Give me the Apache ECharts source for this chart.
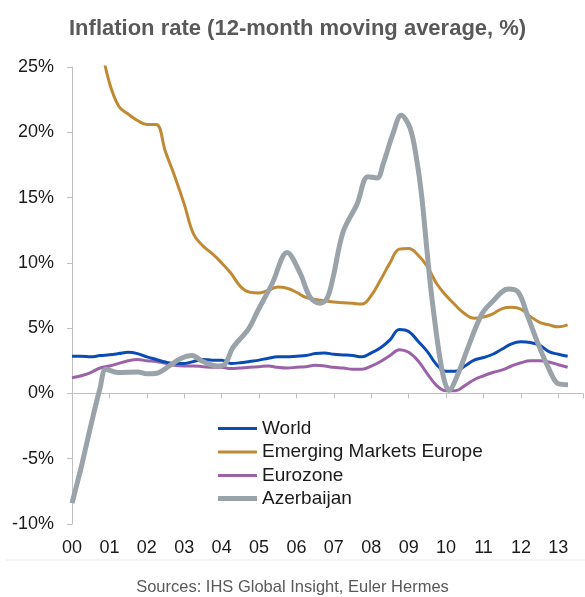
<!DOCTYPE html>
<html>
<head>
<meta charset="utf-8">
<script src="https://cdn.jsdelivr.net/npm/echarts@6/dist/echarts.min.js"></script>
<style>
html,body{margin:0;padding:0;background:#fff;}
#c{width:585px;height:597px;}
</style>
</head>
<body>
<div id="c"></div>
<script>
// Quarterly time grid (decimal years)
var years = [2000,2000.25,2000.5,2000.75,2001,2001.25,2001.5,2001.75,2002,2002.25,2002.5,2002.75,
  2003,2003.25,2003.5,2003.75,2004,2004.25,2004.5,2004.75,2005,2005.25,2005.5,2005.75,
  2006,2006.25,2006.5,2006.75,2007,2007.25,2007.5,2007.75,2008,2008.25,2008.5,2008.75,
  2009,2009.25,2009.5,2009.75,2010,2010.25,2010.5,2010.75,2011,2011.25,2011.5,2011.75,
  2012,2012.25,2012.5,2012.75,2013,2013.25];

var world = [2.85,2.85,2.8,2.9,2.96,3.05,3.15,3.05,2.8,2.6,2.4,2.3,
  2.3,2.45,2.6,2.55,2.55,2.3,2.35,2.45,2.55,2.7,2.8,2.8,
  2.85,2.9,3.05,3.1,3.0,2.95,2.9,2.8,3.1,3.5,4.1,4.9,
  4.75,4.0,3.2,2.2,1.7,1.7,2.1,2.55,2.75,3.0,3.4,3.8,
  3.95,3.9,3.7,3.2,3.0,2.85];

var emergingEurope = [null,null,null,27,23.8,22.0,21.4,20.9,20.6,20.6,18.5,16.6,
  14.5,12.2,11.3,10.7,10.0,9.2,8.2,7.75,7.7,7.9,8.15,8.05,
  7.75,7.35,7.2,7.1,7.0,6.95,6.9,6.85,7.5,8.7,10.0,11.05,
  11.1,10.6,9.7,8.4,7.5,6.75,6.1,5.75,5.85,6.1,6.5,6.6,
  6.45,5.9,5.45,5.25,5.1,5.25];

var eurozone = [1.2,1.35,1.6,1.95,2.1,2.3,2.5,2.6,2.5,2.45,2.3,2.15,
  2.1,2.1,2.05,2.0,2.0,1.9,1.95,2.0,2.05,2.1,2.0,1.95,
  2.0,2.05,2.15,2.1,2.0,1.95,1.85,1.85,2.1,2.45,2.9,3.35,
  3.15,2.5,1.5,0.6,0.2,0.2,0.6,1.05,1.35,1.6,1.8,2.1,
  2.35,2.5,2.5,2.4,2.2,2.0];

// Azerbaijan read at its own (irregular) dates
var azYears = [2000,2000.25,2000.5,2000.75,2000.91,2001.23,2001.76,2002.0,2002.27,2002.62,2002.89,
  2003.21,2003.5,2003.88,2004.09,2004.3,2004.71,2004.97,2005.35,2005.75,2006.1,2006.36,2006.63,
  2006.82,2006.98,2007.25,2007.62,2007.91,2008.16,2008.32,2008.58,2008.8,2009.04,2009.22,2009.36,
  2009.49,2009.63,2009.89,2010.08,2010.32,2010.59,2010.96,2011.23,2011.66,2011.93,2012.19,2012.46,
  2012.73,2013.0,2013.26];
var azerbaijan = [-8.4,-5.6,-2.5,0.4,1.85,1.6,1.65,1.5,1.55,2.14,2.65,
  2.9,2.45,2.1,2.25,3.5,4.9,6.35,8.4,10.8,9.2,7.4,6.9,
  7.3,8.9,12.4,14.5,16.6,16.5,17.6,19.9,21.3,20.3,17.8,14.8,
  10.9,7.1,1.8,0.25,1.5,3.55,6.1,7.0,8.0,7.75,5.85,3.8,
  2.0,0.74,0.67];

var yTicks = [-10,-5,0,5,10,15,20,25];
var seriesNames = ['World','Emerging Markets Europe','Eurozone','Azerbaijan'];
var titleText = 'Inflation rate (12-month moving average, %)';
var sourceText = 'Sources: IHS Global Insight, Euler Hermes';

function pairs(xs, ys){ return xs.map(function(x,i){ return [x, ys[i]]; }); }

var FONT = 'Liberation Sans, Arial, sans-serif';
var chart = echarts.init(document.getElementById('c'));
var xCommon = { type:'value', min:2000, max:2013.66, interval:1, splitLine:{show:false} };
var legendText = { fontFamily:FONT, fontSize:19, color:'#1a1a1a' };

chart.setOption({
  animation:false,
  backgroundColor:'#ffffff',
  title:{ text:titleText, left:64, top:13,
    textStyle:{ fontFamily:FONT, fontSize:22, fontWeight:'bold', color:'#595959' } },
  grid:{ left:72, right:2, top:67, bottom:73, containLabel:false },
  legend:[
    { data:seriesNames.slice(0,3), orient:'vertical', left:213, top:414,
      icon:'rect', itemWidth:39, itemHeight:3, itemGap:4.5, textStyle:legendText },
    { data:seriesNames.slice(3), orient:'vertical', left:213, top:484,
      icon:'rect', itemWidth:39, itemHeight:5, itemGap:4.5, textStyle:legendText }
  ],
  xAxis:[
    Object.assign({}, xCommon, {
      position:'bottom',
      axisLine:{show:false, onZero:false}, axisTick:{show:false},
      axisLabel:{ margin:15, fontFamily:FONT, fontSize:18, color:'#1a1a1a', showMaxLabel:false,
        formatter:function(v){ if (v > 2013.5) return ''; var n = Math.round(v) % 100; return (n<10?'0':'')+n; } }
    }),
    Object.assign({}, xCommon, {
      position:'bottom',
      axisLine:{show:true, onZero:true, lineStyle:{color:'#c0c0c0', width:1}},
      axisTick:{show:true, inside:false, length:5, lineStyle:{color:'#c0c0c0'}},
      axisLabel:{show:false}
    })
  ],
  yAxis:{
    type:'value', min:yTicks[0], max:yTicks[yTicks.length-1], interval:5,
    axisLine:{show:true, lineStyle:{color:'#c0c0c0'}},
    axisTick:{show:true, length:5, lineStyle:{color:'#c0c0c0'}},
    splitLine:{show:false},
    axisLabel:{ margin:18, fontFamily:FONT, fontSize:18, color:'#1a1a1a', formatter:'{value}%' }
  },
  graphic:[
    { type:'line', shape:{x1:6,y1:560,x2:585,y2:560}, style:{stroke:'#e8e8e8', lineWidth:1} },
    { type:'text', left:'center', top:579,
      style:{ text:sourceText, fontFamily:FONT, fontSize:16.5, fill:'#595959' } }
  ],
  series:[
    { name:seriesNames[0], type:'line', xAxisIndex:0, data:pairs(years, world), symbol:'none',
      smooth:0.4, lineStyle:{color:'#0a4bb4', width:3}, itemStyle:{color:'#0a4bb4'}, z:4 },
    { name:seriesNames[1], type:'line', xAxisIndex:0, data:pairs(years, emergingEurope), symbol:'none',
      smooth:0.4, lineStyle:{color:'#c08a35', width:3}, itemStyle:{color:'#c08a35'}, z:3 },
    { name:seriesNames[2], type:'line', xAxisIndex:0, data:pairs(years, eurozone), symbol:'none',
      smooth:0.4, lineStyle:{color:'#9b62a8', width:3}, itemStyle:{color:'#9b62a8'}, z:2 },
    { name:seriesNames[3], type:'line', xAxisIndex:0, data:pairs(azYears, azerbaijan), symbol:'none',
      smooth:0.35, lineStyle:{color:'#9aa3a9', width:5}, itemStyle:{color:'#9aa3a9'}, z:5 }
  ]
});
</script>
</body>
</html>
